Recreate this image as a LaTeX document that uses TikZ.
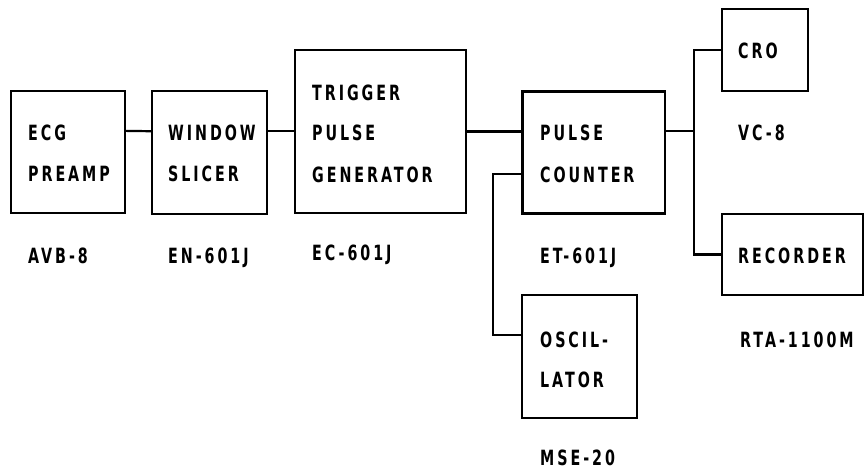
\documentclass[tikz,border=0pt]{standalone}
\usepackage{fontspec}
\usetikzlibrary{calc}
\newfontfamily\labfont[FakeStretch=0.68,LetterSpace=14]{DejaVu Sans}
\begin{document}
\begin{tikzpicture}[x=1pt,y=-1pt,
  blk/.style={draw,line width=2.2pt,inner sep=0pt},
  txt/.style={anchor=base west,inner sep=0pt,font=\labfont\bfseries\fontsize{21}{24}\selectfont},
  wire/.style={line width=2.2pt}]
\useasboundingbox (0,0) rectangle (865,469);
% boxes
\node[blk,minimum width=114.3pt,minimum height=122pt] (ecg) at (67.85,152) {};
\node[blk,minimum width=115pt,minimum height=123pt] (win) at (209.5,152.5) {};
\node[blk,minimum width=171pt,minimum height=163pt] (trig) at (380.5,131.5) {};
\node[blk,minimum width=142.5pt,minimum height=122pt] (cnt) at (593.75,152.5) {};
\node[blk,minimum width=86pt,minimum height=82pt] (cro) at (765,50) {};
\node[blk,minimum width=141pt,minimum height=81pt] (rec) at (792.5,254.5) {};
\node[blk,minimum width=115pt,minimum height=123pt] (osc) at (579.5,356.5) {};
% texts
\node[txt] (t1) at (28,140) {ECG};
\node[txt] (t2) at (28,181) {PREAMP};
\node[txt] (t3) at (28,263) {AVB-8};
\node[txt] (t4) at (168,140) {WINDOW};
\node[txt] (t5) at (168,181) {SLICER};
\node[txt] (t6) at (168,263) {EN-601J};
\node[txt] (t7) at (312,100) {TRIGGER};
\node[txt] (t8) at (312,140) {PULSE};
\node[txt] (t9) at (312,182) {GENERATOR};
\node[txt] (t10) at (312,260) {EC-601J};
\node[txt] (t11) at (540,140) {PULSE};
\node[txt] (t12) at (540,182) {COUNTER};
\node[txt] (t13) at (540,263) {ET-601J};
\node[txt] (t14) at (738,58) {CRO};
\node[txt] (t15) at (738,140) {VC-8};
\node[txt] (t16) at (738,263) {RECORDER};
\node[txt] (t17) at (740,347) {RTA-1100M};
\node[txt] (t18) at (540,347) {OSCIL-};
\node[txt] (t19) at (540,387) {LATOR};
\node[txt] (t20) at (540,465) {MSE-20};
% connectors
\draw[wire] ($(ecg.north east)!0.33!(ecg.south east)$) -- ($(win.north west)!0.33!(win.south west)$);
\draw[wire] ($(win.north east)!0.33!(win.south east)$) -- (trig.west |- {$(win.north east)!0.33!(win.south east)$});
\draw[wire] (trig.east) -- (cnt.west |- trig.east);
\draw[wire] ($(cnt.north east)!0.33!(cnt.south east)$) -- ++(28,0) coordinate (j);
\draw[wire] (cro.west) -- (cro.west -| j) |- (rec.west);
\draw[wire] ($(cnt.north west)!0.67!(cnt.south west)$) -- ++(-28.5,0) coordinate (k) |- ($(osc.north west)!0.33!(osc.south west)$);
\end{tikzpicture}
\end{document}
